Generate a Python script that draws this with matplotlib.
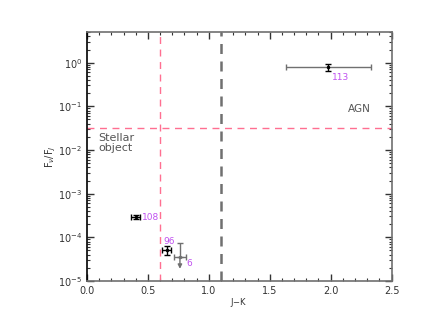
import numpy as np
import matplotlib.pyplot as plt
from matplotlib.ticker import FixedLocator, FormatStrFormatter, LogLocator

# Datos
fuentes = ['113', '108', '96', '6']
jk = [1.98, 0.40, 0.654, 0.763]
jk_err = [0.35, 0.037, 0.035, 0.047]
ratio = [0.78, 2.9e-4, 5.2e-5, 3.5e-5]
ratio_lo = [0.64, 2.6e-4, 4.0e-5, 0.0]
ratio_hi = [0.95, 3.2e-4, 6.3e-5, 7.6e-5]
limite_6 = 1.9e-5

corte_jk_estrella = 0.6
corte_jk_agn = 1.1
corte_ratio = 0.0316

rosa = '#ff6f91'
magenta = '#c050f0'
gris = '#707070'

plt.rcParams['font.family'] = 'DejaVu Sans'
fig = plt.figure(figsize=(4.36, 3.12), dpi=100)
ax = fig.add_axes([0.1995, 0.0994, 0.6985, 0.7976])

# 113: barra horizontal gris, vertical negra
ax.errorbar(jk[0], ratio[0], xerr=jk_err[0], fmt='none', ecolor=gris,
            elinewidth=1, capsize=2.5)
ax.errorbar(jk[0], ratio[0], yerr=[[ratio[0] - ratio_lo[0]], [ratio_hi[0] - ratio[0]]],
            fmt='.', color='black', ms=3, elinewidth=1, capsize=2)

# 108 y 96
for i in (1, 2):
    ax.errorbar(jk[i], ratio[i], xerr=jk_err[i],
                yerr=[[ratio[i] - ratio_lo[i]], [ratio_hi[i] - ratio[i]]],
                fmt='.', color='black', ms=3, elinewidth=1, capsize=2)

# 6: límite superior
ax.errorbar(jk[3], ratio[3], xerr=jk_err[3], yerr=[[0], [ratio_hi[3] - ratio[3]]],
            fmt='.', color=gris, ms=3, elinewidth=1, capsize=2)
ax.annotate('', xy=(jk[3], limite_6), xytext=(jk[3], ratio[3]),
            arrowprops=dict(arrowstyle='-|>', color=gris, lw=1,
                            mutation_scale=6, shrinkA=0, shrinkB=0))

# etiquetas
ax.text(jk[0] + 0.03, ratio[0] * 0.58, fuentes[0], color=magenta, fontsize=6.5,
        va='center')
ax.text(jk[1] + 0.05, ratio[1], fuentes[1], color=magenta, fontsize=6.5,
        va='center')
ax.text(jk[2] - 0.03, ratio[2] * 1.55, fuentes[2], color=magenta, fontsize=6.5,
        va='center')
ax.text(jk[3] + 0.05, ratio[3] * 0.7, fuentes[3], color=magenta, fontsize=6.5,
        va='center')

# líneas de corte
ax.axvline(corte_jk_estrella, color=rosa, ls=(0, (5, 4)), lw=1)
ax.axhline(corte_ratio, color=rosa, ls=(0, (5, 4)), lw=1)
ax.axvline(corte_jk_agn, color=gris, ls=(0, (4, 3)), lw=1.8)

ax.text(0.09, 0.0145, 'Stellar\nobject', color='#555555', fontsize=8,
        va='center', linespacing=1.0)
ax.text(2.14, 0.085, 'AGN', color='#555555', fontsize=7.5, va='center')

ax.set_yscale('log')
ax.set_xlim(0, 2.5)
ax.set_ylim(1e-5, 5)
ax.xaxis.set_major_locator(FixedLocator([0, 0.5, 1.0, 1.5, 2.0, 2.5]))
ax.xaxis.set_minor_locator(FixedLocator(np.arange(0, 2.51, 0.1)))
ax.xaxis.set_major_formatter(FormatStrFormatter('%.1f'))
ax.yaxis.set_major_locator(LogLocator(base=10, numticks=10))
ax.yaxis.set_minor_locator(LogLocator(base=10, subs=np.arange(2, 10), numticks=10))
ax.tick_params(which='both', direction='in', top=True, right=True,
               labelsize=7, colors='#333333')
ax.tick_params(which='major', length=5, width=1)
ax.tick_params(which='minor', length=2.5, width=0.8)
for s in ax.spines.values():
    s.set_color(gris)
    s.set_linewidth(1.2)
ax.spines['left'].set_color('black')

ax.set_xlabel('J$-$K', fontsize=6, color='#333333', labelpad=0)
ax.set_ylabel(r'F$_\nu$/F$_J$', fontsize=7, color='#333333', labelpad=0)

fig.savefig('out.png', dpi=100)
